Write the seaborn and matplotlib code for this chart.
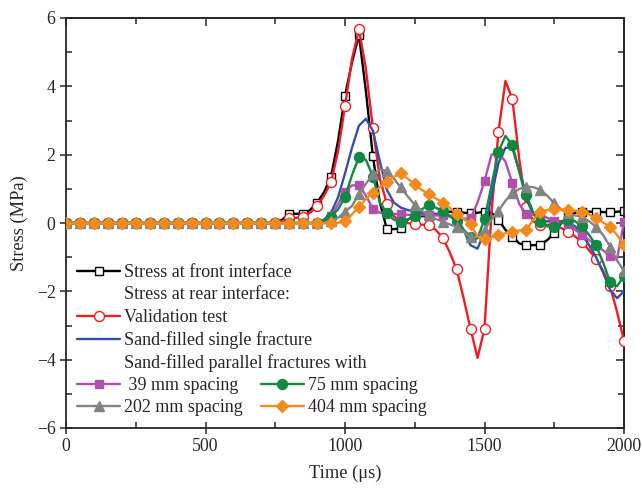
import matplotlib
matplotlib.use("Agg")
import matplotlib.pyplot as plt
import seaborn as sns
from matplotlib.lines import Line2D
from matplotlib.ticker import MultipleLocator, NullFormatter

# ---------------- data (time in microseconds, stress in MPa) ----------------
time_us = [0, 25, 50, 75, 100, 125, 150, 175, 200, 225, 250, 275, 300, 325, 350, 375,
           400, 425, 450, 475, 500, 525, 550, 575, 600, 625, 650, 675, 700, 725,
           750, 775, 800, 825, 850, 875, 900, 925, 950, 975, 1000, 1025, 1050, 1075,
           1100, 1125, 1150, 1175, 1200, 1225, 1250, 1275, 1300, 1325, 1350, 1375,
           1400, 1425, 1450, 1475, 1500, 1525, 1550, 1575, 1600, 1625, 1650, 1675,
           1700, 1725, 1750, 1775, 1800, 1825, 1850, 1875, 1900, 1925, 1950, 1975, 2000]

zeros_early = [0.0, 0.0, 0.0, 0.0, 0.0, 0.0, 0.0, 0.0, 0.0, 0.0, 0.0, 0.0, 0.0, 0.0, 0.0,
               0.0, 0.0, 0.0, 0.0, 0.0, 0.0, 0.0, 0.0, 0.0, 0.0, 0.0, 0.0, 0.0, 0.0, 0.0]

front_late = [0.0, 0.1, 0.27, 0.27, 0.27, 0.38, 0.6, 0.9, 1.36, 2.4, 3.72, 4.7, 5.5, 3.85,
              1.95, 0.6, -0.18, -0.18, -0.15, 0.1, 0.2, 0.2, 0.2, 0.25, 0.3, 0.33, 0.33,
              0.3, 0.28, 0.3, 0.33, 0.3, 0.1, -0.2, -0.4, -0.6, -0.65, -0.65, -0.64, -0.5,
              -0.3, 0.0, 0.2, 0.3, 0.33, 0.33, 0.33, 0.32, 0.31, 0.33, 0.35]
validation_late = [0.0, 0.05, 0.14, 0.15, 0.19, 0.3, 0.5, 0.8, 1.19, 2.1, 3.42, 4.8, 5.67,
                   4.5, 2.78, 1.3, 0.56, 0.2, 0.05, 0.0, -0.04, -0.05, -0.06, -0.2, -0.43,
                   -0.85, -1.35, -2.2, -3.1, -3.95, -3.09, 0.3, 2.67, 4.16, 3.62, 1.84, 0.48,
                   0.05, -0.06, -0.05, -0.05, -0.15, -0.25, -0.4, -0.55, -0.8, -1.05, -1.4,
                   -1.85, -2.6, -3.45]
single_late = [0.0, 0.0, 0.0, 0.0, 0.0, 0.0, 0.02, 0.1, 0.3, 0.75, 1.45, 2.2, 2.85, 3.05,
               2.7, 1.8, 0.97, 0.6, 0.45, 0.38, 0.33, 0.3, 0.28, 0.27, 0.25, 0.22, 0.15,
               -0.2, -0.65, -0.75, -0.25, 0.8, 1.75, 2.2, 2.2, 1.5, 0.7, 0.25, 0.08, 0.05,
               0.05, 0.05, 0.0, -0.1, -0.35, -0.65, -1.0, -1.45, -1.95, -2.2, -2.0]
sp39_late = [0.0, 0.0, 0.0, 0.0, 0.0, 0.0, 0.0, 0.05, 0.2, 0.55, 0.92, 1.1, 1.11, 0.8, 0.42,
             0.3, 0.28, 0.27, 0.25, 0.24, 0.23, 0.23, 0.23, 0.22, 0.22, 0.2, 0.18, 0.12,
             0.14, 0.6, 1.22, 2.0, 2.05, 1.8, 1.16, 0.55, 0.25, 0.25, 0.25, 0.15, 0.05, 0.0,
             -0.02, -0.2, -0.35, -0.5, -0.65, -0.8, -0.97, -1.05, 0.02]
sp75_late = [0.0, 0.0, 0.0, 0.0, 0.0, 0.0, 0.0, 0.05, 0.18, 0.4, 0.75, 1.4, 1.93, 1.85, 1.36,
             0.6, 0.28, 0.1, 0.04, 0.1, 0.2, 0.4, 0.53, 0.45, 0.35, 0.2, 0.05, -0.2, -0.4,
             -0.45, 0.11, 1.1, 2.09, 2.55, 2.28, 1.5, 0.82, 0.3, 0.02, -0.1, -0.13, 0.0, 0.1,
             0.05, -0.1, -0.35, -0.65, -1.15, -1.72, -1.85, -1.55]
sp202_late = [0.0, 0.0, 0.0, 0.0, 0.0, 0.0, 0.0, 0.0, 0.05, 0.15, 0.33, 0.5, 0.85, 1.15,
              1.42, 1.57, 1.52, 1.3, 1.04, 0.78, 0.53, 0.36, 0.23, 0.12, 0.04, -0.04, -0.11,
              -0.25, -0.42, -0.4, -0.2, 0.1, 0.35, 0.65, 0.87, 1.0, 1.06, 1.05, 0.97, 0.8,
              0.58, 0.4, 0.28, 0.22, 0.18, 0.05, -0.11, -0.35, -0.69, -1.1, -1.4]
sp404_late = [0.0, 0.0, 0.0, 0.0, 0.0, 0.0, 0.0, 0.0, 0.0, 0.01, 0.05, 0.25, 0.48, 0.7, 0.88,
              1.05, 1.2, 1.35, 1.45, 1.3, 1.13, 0.97, 0.84, 0.72, 0.6, 0.45, 0.27, 0.12,
              -0.03, -0.4, -0.48, -0.42, -0.35, -0.3, -0.25, -0.22, -0.2, 0.1, 0.33, 0.38,
              0.4, 0.4, 0.38, 0.36, 0.33, 0.25, 0.14, 0.02, -0.11, -0.35, -0.64]

front = zeros_early + front_late
validation = zeros_early + validation_late
single = zeros_early + single_late
sp39 = zeros_early + sp39_late
sp75 = zeros_early + sp75_late
sp202 = zeros_early + sp202_late
sp404 = zeros_early + sp404_late

labels = ["Stress at front interface", "Validation test", "Sand-filled single fracture",
          " 39 mm spacing", "75 mm spacing", "202 mm spacing", "404 mm spacing"]
header_rear = "Stress at rear interface:"
header_par = "Sand-filled parallel fractures with"

# ---------------- style ----------------
sns.set_style("ticks")
plt.rcParams['font.family'] = ['Liberation Serif', 'DejaVu Serif']
plt.rcParams['axes.linewidth'] = 1.3

fig = plt.figure(figsize=(6.42, 4.97), dpi=100)
ax = fig.add_axes([66 / 642, 1 - 428 / 497, 558 / 642, 410 / 497])

specs = [
    (front, "#000000", "s", "white", 6.2),
    (validation, "#EE1C24", "o", "white", 7.2),
    (single, "#3350A5", None, None, 0),
    (sp39, "#B04FB0", "s", "#B04FB0", 6.2),
    (sp75, "#108A42", "o", "#108A42", 7.2),
    (sp202, "#838383", "^", "#838383", 7.8),
    (sp404, "#F28A1E", "D", "#F28A1E", 6.6),
]

handles = []
for i, ((vals, col, mk, mfc, ms), lab) in enumerate(zip(specs, labels)):
    kw = dict(color=col, lw=1.7, zorder=2 + i)
    if mk is not None:
        kw.update(marker=mk, markevery=2, markersize=ms, markerfacecolor=mfc,
                  markeredgecolor=col, markeredgewidth=1.0)
    sns.lineplot(x=time_us, y=vals, ax=ax, legend=False, **kw)
    hkw = dict(color=col, lw=1.7)
    if mk is not None:
        hkw.update(marker=mk, markersize=ms, markerfacecolor=mfc,
                   markeredgecolor=col, markeredgewidth=1.0)
    handles.append(Line2D([], [], label=lab, **hkw))

ax.set_xlim(0, 2000)
ax.set_ylim(-6, 6)
ax.xaxis.set_major_locator(MultipleLocator(500))
ax.xaxis.set_minor_locator(MultipleLocator(250))
ax.yaxis.set_major_locator(MultipleLocator(2))
ax.yaxis.set_minor_locator(MultipleLocator(1))
ax.tick_params(which='major', direction='inout', length=9, width=1.1, labelsize=12.8, pad=3)
ax.tick_params(which='minor', direction='in', length=4.5, width=1.1)
ax.set_xlabel("Time (μs)", fontsize=13.2, labelpad=7)
ax.set_ylabel("Stress (MPa)", fontsize=13.2, labelpad=6)

secx = ax.secondary_xaxis('top')
secx.xaxis.set_major_locator(MultipleLocator(500))
secx.xaxis.set_minor_locator(MultipleLocator(250))
secx.xaxis.set_major_formatter(NullFormatter())
secx.tick_params(which='major', direction='in', length=6, width=1.1)
secx.tick_params(which='minor', direction='in', length=4.5, width=1.1)
secy = ax.secondary_yaxis('right')
secy.yaxis.set_major_locator(MultipleLocator(2))
secy.yaxis.set_minor_locator(MultipleLocator(1))
secy.yaxis.set_major_formatter(NullFormatter())
secy.tick_params(which='major', direction='in', length=6, width=1.1)
secy.tick_params(which='minor', direction='in', length=4.5, width=1.1)

blank = lambda lab: Line2D([], [], color='none', label=lab)
leg1_handles = [handles[0], blank(header_rear), handles[1], handles[2], blank(header_par)]
leg1 = ax.legend(handles=leg1_handles, loc='upper left',
                 bbox_to_anchor=((77 - 66) / 558, (428 - 264) / 410),
                 frameon=False, fontsize=13, borderpad=0, borderaxespad=0,
                 handlelength=2.4, handletextpad=0.2, labelspacing=0.3)
ax.add_artist(leg1)
leg2_handles = [handles[3], handles[5], handles[4], handles[6]]
ax.legend(handles=leg2_handles, loc='upper left', ncol=2,
          bbox_to_anchor=((77 - 66) / 558, (428 - 377) / 410),
          frameon=False, fontsize=13, borderpad=0, borderaxespad=0,
          handlelength=2.4, handletextpad=0.2, labelspacing=0.3, columnspacing=1.0)

fig.savefig("out.png", dpi=100)
